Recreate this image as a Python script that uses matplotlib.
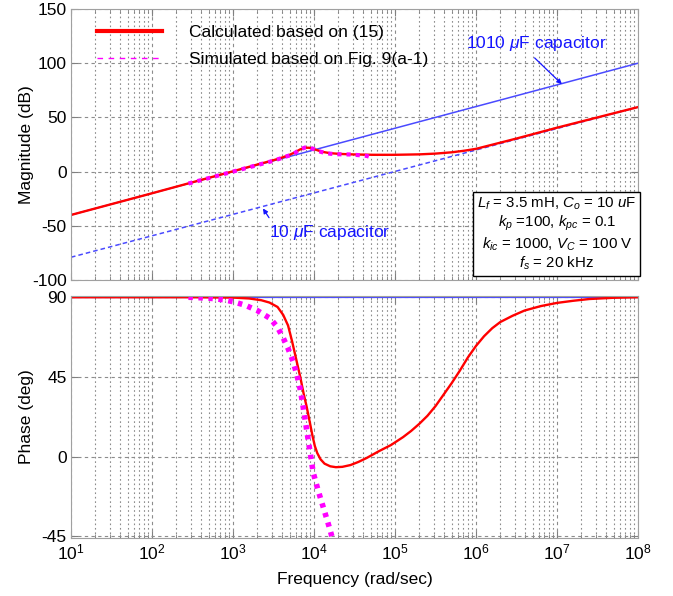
import numpy as np
import matplotlib
matplotlib.use('Agg')
import matplotlib.pyplot as plt
from matplotlib.lines import Line2D

plt.rcParams['font.family'] = ['Liberation Sans', 'DejaVu Sans']
plt.rcParams['mathtext.fontset'] = 'custom'
plt.rcParams['mathtext.rm'] = 'Liberation Sans'
plt.rcParams['mathtext.it'] = 'Liberation Sans:italic'
plt.rcParams['mathtext.bf'] = 'Liberation Sans:bold'
plt.rcParams['axes.unicode_minus'] = False

# --- data (log10 of frequency in rad/s) ---
cap1010_logw = [1, 8]
cap1010_db = [-40, 100]
cap10_logw = [1, 8]
cap10_db = [-79, 59.5]

calc_mag_logw = [1, 2, 3, 3.3, 3.5, 3.6, 3.7, 3.77, 3.83, 3.89, 3.94, 3.99, 4.05,
                 4.12, 4.2, 4.32, 4.5, 4.73, 5.0, 5.3, 5.5, 5.7, 5.85, 6.0, 6.2,
                 6.5, 7.0, 7.5, 8.0]
calc_mag_db = [-40, -20, 0.3, 6.5, 10.5, 12.8, 15.5, 18, 20.5, 22, 22, 21, 19.5,
               18, 17, 16.3, 15.8, 15.5, 15.5, 15.9, 16.6, 17.8, 19.2, 21, 24.8,
               30.5, 40.5, 50, 59.5]

sim_mag_logw = [2.45, 2.7, 3.0, 3.3, 3.5, 3.6, 3.7, 3.77, 3.83, 3.89, 3.94, 3.99,
                4.05, 4.12, 4.2, 4.3, 4.45, 4.58, 4.65, 4.73]
sim_mag_db = [-11, -6, 0, 6, 10, 12.5, 15, 17.5, 20.5, 22.2, 22.5, 21,
              19, 17.5, 16.5, 16, 15.8, 15, 14.5, 12.5]

cap_phase_logw = [1, 8]
cap_phase_deg = [90, 90]

calc_ph_logw = [1, 2.0, 2.5, 3.0, 3.2, 3.35, 3.45, 3.55, 3.62, 3.68, 3.73, 3.78,
                3.83, 3.87, 3.91, 3.95, 3.98, 4.01, 4.04, 4.08, 4.13, 4.2, 4.27,
                4.35, 4.45, 4.55, 4.65, 4.8, 4.95, 5.1, 5.2, 5.3, 5.4, 5.5, 5.6,
                5.7, 5.8, 5.9, 6.0, 6.1, 6.2, 6.3, 6.45, 6.6, 6.8, 7.0, 7.2, 7.4,
                7.7, 8.0]
calc_ph_deg = [90, 90, 90, 89.8, 89.3, 88.3, 87, 84.5, 80, 74, 65, 55,
               45, 36, 28, 19, 12, 6, 2, -1.5, -4, -5.5, -6,
               -5.8, -4.8, -3, -0.8, 3, 6.5, 11, 14.5, 18.5, 23, 28.5, 35,
               41.5, 48.5, 56, 62.5, 68, 72.5, 76, 79.5, 82.5, 85, 86.8, 88, 89,
               89.7, 90]

sim_ph_logw = [2.45, 2.7, 2.9, 3.0, 3.15, 3.3, 3.46, 3.55, 3.62, 3.68, 3.74, 3.79,
               3.83, 3.87, 3.91, 3.95, 3.99, 4.05, 4.11, 4.17, 4.22]
sim_ph_deg = [90, 89.5, 88.5, 87.5, 85.5, 82.5, 78, 73, 67, 61, 54, 46,
              38, 27, 15, 3, -9, -19, -28, -37, -45]

RED = '#ff0000'
MAG = '#ff00ff'
BLUE = '#4a4aff'
TXTBLUE = '#1414ff'


def freq(logw):
    return 10 ** np.array(logw)


def style_axes(ax):
    ax.set_xscale('log')
    ax.set_xlim(1e1, 1e8)
    ax.grid(True, which='major', axis='x', linestyle=(0, (3, 3)), color='#8c8c8c', linewidth=0.8)
    ax.grid(True, which='minor', axis='x', linestyle=(0, (1.5, 2.5)), color='#8c8c8c', linewidth=0.8)
    ax.grid(True, which='major', axis='y', linestyle=(0, (3, 3)), color='#8c8c8c', linewidth=0.8)
    ax.tick_params(which='both', direction='in', top=True, right=True, colors='#808080',
                   labelcolor='black', labelsize=12.5, pad=3)
    ax.tick_params(which='major', length=5)
    ax.tick_params(which='minor', length=3)
    for s in ax.spines.values():
        s.set_color('#a0a0a0')


fig = plt.figure(figsize=(6.73, 5.96), dpi=100)
ax1 = fig.add_axes([71 / 673, 1 - 280 / 596, 567 / 673, 271 / 596])
ax2 = fig.add_axes([71 / 673, 1 - 538 / 596, 567 / 673, 242 / 596], sharex=ax1)

# ---------- magnitude ----------
style_axes(ax1)
ax1.plot(freq(cap1010_logw), cap1010_db, color=BLUE, lw=1.1)
ax1.plot(freq(cap10_logw), cap10_db, color=BLUE, lw=1.1, linestyle=(0, (3, 2)))
ax1.plot(freq(calc_mag_logw), calc_mag_db, color=RED, lw=1.7)
ax1.plot(freq(sim_mag_logw), sim_mag_db, color=MAG, lw=3, linestyle=(0, (1, 1.2)))
ax1.set_ylim(-100, 150)
ax1.set_yticks([-100, -50, 0, 50, 100, 150])
ax1.set_ylabel('Magnitude (dB)', fontsize=12.5)
ax1.yaxis.set_label_coords(-0.066, 0.5)
plt.setp(ax1.get_xticklabels(), visible=False)

handles = [Line2D([], [], color=RED, lw=3),
           Line2D([], [], color=MAG, lw=1, linestyle=(0, (4, 4)))]
ax1.legend(handles, ['Calculated based on (15)', 'Simulated based on Fig. 9(a-1)'],
           loc='upper left', bbox_to_anchor=(0.018, 1.0), frameon=False, fontsize=12.5,
           handlelength=3.75, handletextpad=1.55, labelspacing=0.68)

ax1.annotate(r'1010 $\mu$F capacitor', xy=(10 ** 7.06, 80.7), xytext=(10 ** 6.75, 118),
             color=TXTBLUE, fontsize=12.5, ha='center', va='center',
             arrowprops=dict(arrowstyle='-|>', color=TXTBLUE, lw=0.9, mutation_scale=7,
                             shrinkA=2, shrinkB=0, relpos=(0.45, 0.0)))
ax1.annotate(r'10 $\mu$F capacitor', xy=(10 ** 3.37, -34), xytext=(10 ** 4.19, -56),
             color=TXTBLUE, fontsize=12.5, ha='center', va='center',
             arrowprops=dict(arrowstyle='-|>', color=TXTBLUE, lw=0.9, mutation_scale=7,
                             shrinkA=2, shrinkB=0, relpos=(0.03, 1.0)))

params = ('$L_f$ = 3.5 mH, $C_o$ = 10 $u$F\n'
          '$k_p$ =100, $k_{pc}$ = 0.1\n'
          '$k_{ic}$ = 1000, $V_C$ = 100 V\n'
          '$f_s$ = 20 kHz')
ax1.text(0.857, 0.17, params, transform=ax1.transAxes, ha='center', va='center',
         fontsize=10.8, linespacing=1.15,
         bbox=dict(boxstyle='square,pad=0.25', facecolor='white', edgecolor='black', lw=1))

# ---------- phase ----------
style_axes(ax2)
ax2.plot(freq(cap_phase_logw), cap_phase_deg, color=BLUE, lw=1.6)
ax2.plot(freq(calc_ph_logw), calc_ph_deg, color=RED, lw=1.7)
ax2.plot(freq(sim_ph_logw), sim_ph_deg, color=MAG, lw=4, linestyle=(0, (0.8, 1.0)))
ax2.set_ylim(-46, 90.7)
ax2.set_yticks([-45, 0, 45, 90])
ax2.set_ylabel('Phase (deg)', fontsize=12.5)
ax2.yaxis.set_label_coords(-0.066, 0.5)
ax2.set_xlabel('Frequency (rad/sec)', fontsize=12.5, labelpad=7)
ax2.set_xticks([10 ** k for k in range(1, 9)])

fig.savefig('out.png', dpi=100)
